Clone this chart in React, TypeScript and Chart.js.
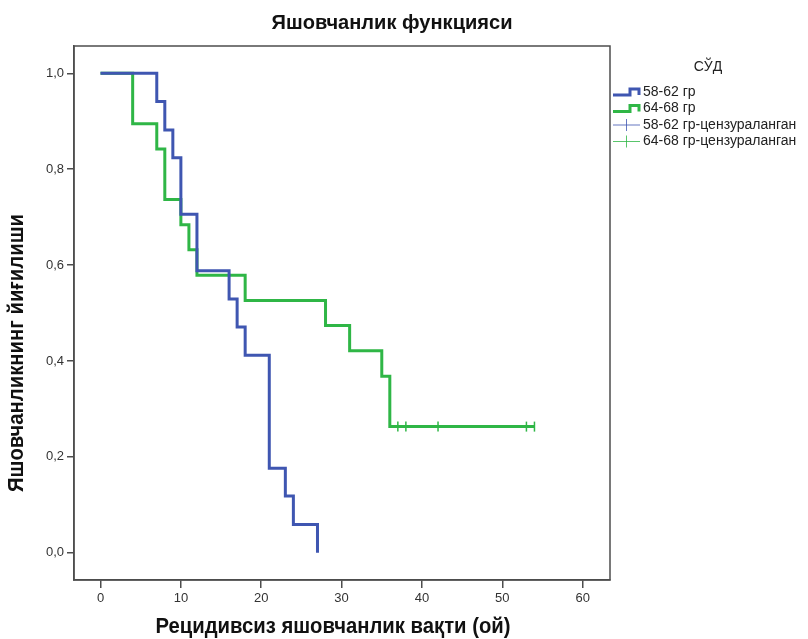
import React, { useEffect, useRef } from 'react';
import { Chart, registerables } from 'chart.js';

Chart.register(...registerables);

const chartTitle = 'Яшовчанлик функцияси';
const xAxisTitle = 'Рецидивсиз яшовчанлик вақти (ой)';
const yAxisTitle = 'Яшовчанликнинг йиғилиши';
const legendTitle = 'СЎД';
const seriesNames = ['58-62 гр', '64-68 гр', '58-62 гр-цензураланган', '64-68 гр-цензураланган'];

const group1Times = [0, 7, 8, 9, 10, 12, 16, 17, 18, 21, 23, 24, 27];
const group1Surv = [1, 0.941, 0.882, 0.824, 0.706, 0.588, 0.529, 0.471, 0.412, 0.176, 0.118, 0.059, 0];

const group2Times = [0, 4, 7, 8, 10, 11, 12, 18, 28, 31, 35, 36, 54];
const group2Surv = [1, 0.895, 0.842, 0.737, 0.684, 0.632, 0.579, 0.526, 0.474, 0.421, 0.368, 0.263, 0.263];

const group1CensorTimes: number[] = [];
const group1CensorSurv: number[] = [];
const group2CensorTimes = [37, 38, 42, 53, 54];
const group2CensorSurv = [0.263, 0.263, 0.263, 0.263, 0.263];

const xTicks = [0, 10, 20, 30, 40, 50, 60];
const yTicks = [0, 0.2, 0.4, 0.6, 0.8, 1.0];

const BLUE = '#3f56b1';
const GREEN = '#2fb646';
const AXIS = '#4d4d4d';
const FONT = '"Liberation Sans", Arial, sans-serif';

const pts = (xs: number[], ys: number[]) => xs.map((x, i) => ({ x, y: ys[i] }));

const decorPlugin = {
  id: 'decor',
  afterDraw(chart: any) {
    const { ctx, chartArea } = chart;
    ctx.save();
    // frame
    ctx.strokeStyle = AXIS;
    ctx.lineWidth = 1.5;
    ctx.strokeRect(chartArea.left, chartArea.top, chartArea.right - chartArea.left, chartArea.bottom - chartArea.top);

    // titles
    ctx.fillStyle = '#111';
    ctx.textAlign = 'center';
    ctx.textBaseline = 'middle';
    ctx.font = `bold 21px ${FONT}`;
    ctx.fillText(chartTitle, 392, 23, 241);
    ctx.font = `bold 22px ${FONT}`;
    ctx.fillText(xAxisTitle, 333, 627, 355);
    ctx.save();
    ctx.translate(17, 353);
    ctx.rotate(-Math.PI / 2);
    ctx.fillText(yAxisTitle, 0, 0, 278);
    ctx.restore();

    // legend
    ctx.font = `14px ${FONT}`;
    ctx.fillStyle = '#222';
    ctx.fillText(legendTitle, 708, 67);
    ctx.textAlign = 'left';
    const rows = [92, 108.5, 125, 141.5];
    const colors = [BLUE, GREEN, BLUE, GREEN];
    rows.forEach((ry, i) => {
      ctx.strokeStyle = colors[i];
      if (i < 2) {
        ctx.lineWidth = 3;
        ctx.beginPath();
        ctx.moveTo(613, ry + 3);
        ctx.lineTo(630, ry + 3);
        ctx.lineTo(630, ry - 3);
        ctx.lineTo(639, ry - 3);
        ctx.lineTo(639, ry + 3);
        ctx.stroke();
      } else {
        ctx.lineWidth = 1;
        ctx.globalAlpha = 0.8;
        ctx.beginPath();
        ctx.moveTo(613, ry);
        ctx.lineTo(640, ry);
        ctx.moveTo(626.5, ry - 6);
        ctx.lineTo(626.5, ry + 6);
        ctx.stroke();
        ctx.globalAlpha = 1;
      }
      ctx.fillStyle = '#222';
      ctx.fillText(seriesNames[i], 643, ry, 164);
    });
    ctx.restore();
  },
};

export default function App() {
  const ref = useRef<HTMLCanvasElement>(null);
  useEffect(() => {
    if (!ref.current) return;
    const chart = new Chart(ref.current, {
      type: 'line',
      data: {
        datasets: [
          {
            label: seriesNames[0],
            data: pts(group1Times, group1Surv),
            borderColor: BLUE,
            borderWidth: 3,
            stepped: 'before',
            pointRadius: 0,
            fill: false,
          },
          {
            label: seriesNames[1],
            data: pts(group2Times, group2Surv),
            borderColor: GREEN,
            borderWidth: 3,
            stepped: 'before',
            pointRadius: 0,
            fill: false,
          },
          {
            label: seriesNames[2],
            data: pts(group1CensorTimes, group1CensorSurv),
            showLine: false,
            pointStyle: 'line',
            rotation: 90,
            pointRadius: 5,
            borderColor: BLUE,
            pointBorderWidth: 1.5,
          },
          {
            label: seriesNames[3],
            data: pts(group2CensorTimes, group2CensorSurv),
            showLine: false,
            pointStyle: 'line',
            rotation: 90,
            pointRadius: 5,
            borderColor: GREEN,
            pointBorderWidth: 1.5,
          },
        ],
      },
      options: {
        responsive: false,
        animation: false,
        layout: { padding: { left: 0, right: 198, top: 46, bottom: 0 } },
        plugins: { legend: { display: false }, title: { display: false }, tooltip: { enabled: false } },
        scales: {
          x: {
            type: 'linear',
            min: -3.3,
            max: 63.4,
            afterBuildTicks: (s: any) => { s.ticks = xTicks.map((v) => ({ value: v })); },
            afterFit: (s: any) => { s.height = 59; },
            grid: { drawOnChartArea: false, tickLength: 8, color: AXIS, lineWidth: 1.5 },
            border: { display: true, color: AXIS, width: 1.5 },
            ticks: { color: '#333', font: { size: 13, family: FONT }, padding: 3, maxRotation: 0 },
          },
          y: {
            type: 'linear',
            min: -0.057,
            max: 1.057,
            afterBuildTicks: (s: any) => { s.ticks = yTicks.map((v) => ({ value: v })); },
            afterFit: (s: any) => { s.width = 74; },
            grid: { drawOnChartArea: false, tickLength: 7, color: AXIS, lineWidth: 1.5 },
            border: { display: true, color: AXIS, width: 1.5 },
            ticks: {
              color: '#333',
              font: { size: 13, family: FONT },
              padding: 3,
              callback: (v: any) => Number(v).toFixed(1).replace('.', ','),
            },
          },
        },
      },
      plugins: [decorPlugin],
    });
    return () => chart.destroy();
  }, []);
  return (
    <div style={{ position: 'fixed', left: 0, top: 0, width: 808, height: 639, background: '#fff' }}>
      <canvas ref={ref} width={808} height={639} style={{ display: 'block' }} />
    </div>
  );
}
